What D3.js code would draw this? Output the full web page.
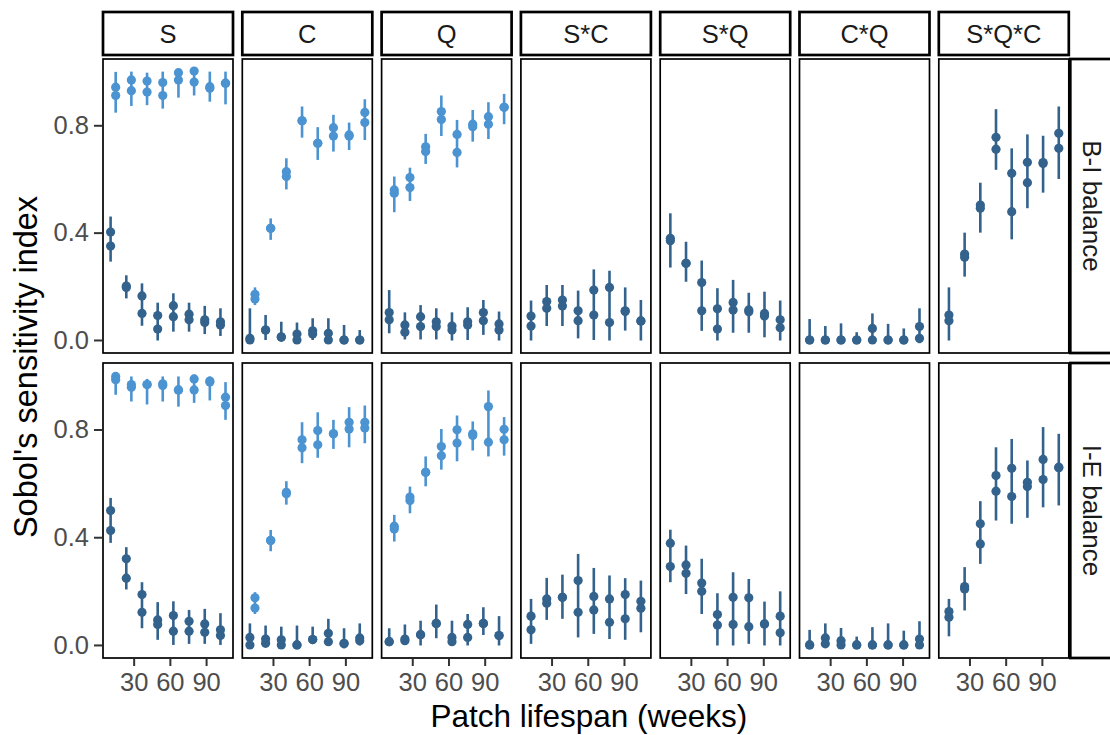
<!DOCTYPE html>
<html><head><meta charset="utf-8">
<script src="https://cdn.jsdelivr.net/npm/d3@7/dist/d3.min.js"></script>
<style>
body{margin:0;background:#fff}
text{font-family:"Liberation Sans", Arial, Helvetica, sans-serif}
</style>
</head><body>
<svg id="chart" width="1110" height="735"></svg>
<script>
// ---------- data ----------
const weeks = [13, 26, 39, 52, 65, 78, 91, 104];
const terms = ["S", "C", "Q", "S*C", "S*Q", "C*Q", "S*Q*C"];
const balances = ["B-I balance", "I-E balance"];
const xTickValues = [30, 60, 90];
const yTickValues = [0, 0.4, 0.8];
const yTickLabels = ["0.0", "0.4", "0.8"];
const xLabel = "Patch lifespan (weeks)";
const yLabel = "Sobol's sensitivity index";

// each entry per week: [estimate 1, estimate 2, interval low, interval high]
// B-I balance, light group (main effects)
const bi_S_light = [[0.942,0.911,0.847,0.999],[0.969,0.929,0.872,1.0],[0.965,0.924,0.875,0.996],[0.959,0.911,0.862,1.0],[0.996,0.969,0.903,1.006],[1.002,0.961,0.911,1.012],[0.944,0.938,0.888,1.0],[0.957,0.957,0.878,1.0]];
const bi_C_light = [[0.170,0.153,0.130,0.196],[0.416,0.416,0.373,0.453],[0.627,0.609,0.561,0.677],[0.817,0.817,0.754,0.870],[0.733,0.733,0.671,0.793],[0.791,0.760,0.702,0.839],[0.764,0.760,0.708,0.810],[0.848,0.810,0.745,0.897]];
const bi_Q_light = [[0.559,0.547,0.476,0.609],[0.605,0.568,0.518,0.642],[0.720,0.702,0.656,0.768],[0.851,0.822,0.760,0.911],[0.766,0.699,0.643,0.820],[0.804,0.795,0.739,0.857],[0.832,0.804,0.749,0.886],[0.867,0.867,0.804,0.917]];
// B-I balance, dark group
const bi_S = [[0.402,0.350,0.292,0.460],[0.201,0.196,0.155,0.241],[0.164,0.099,0.053,0.211],[0.091,0.041,-0.002,0.139],[0.128,0.087,0.031,0.174],[0.096,0.075,0.031,0.139],[0.075,0.065,0.022,0.127],[0.068,0.056,0.015,0.118]];
const bi_C = [[0.006,0.0,-0.012,0.118],[0.037,0.037,0.0,0.093],[0.012,0.010,-0.002,0.068],[0.022,0.0,-0.012,0.065],[0.034,0.022,0.0,0.081],[0.025,0.0,-0.010,0.081],[0.0,0.0,-0.010,0.056],[0.0,0.0,-0.015,0.037]];
const bi_Q = [[0.102,0.075,0.025,0.186],[0.056,0.029,0.002,0.103],[0.087,0.050,0.002,0.130],[0.068,0.050,0.002,0.118],[0.052,0.037,-0.002,0.103],[0.068,0.056,0.0,0.122],[0.102,0.072,0.019,0.149],[0.060,0.037,-0.002,0.106]];
const bi_SC = [[0.089,0.052,-0.002,0.147],[0.143,0.118,0.052,0.205],[0.149,0.127,0.052,0.205],[0.109,0.072,0.006,0.184],[0.186,0.093,0.0,0.263],[0.196,0.065,-0.002,0.258],[0.109,0.106,0.035,0.196],[0.071,0.071,-0.002,0.149]];
const bi_SQ = [[0.379,0.370,0.270,0.472],[0.286,0.286,0.217,0.366],[0.214,0.109,0.034,0.296],[0.116,0.041,-0.002,0.193],[0.140,0.112,0.027,0.224],[0.112,0.105,0.027,0.176],[0.099,0.089,0.010,0.180],[0.075,0.046,-0.002,0.147]];
const bi_CQ = [[0.0,0.0,-0.012,0.078],[0.0,0.0,-0.012,0.052],[0.0,0.0,-0.012,0.062],[0.0,0.0,-0.012,0.029],[0.043,0.0,-0.012,0.099],[0.0,0.0,-0.012,0.060],[0.0,0.0,-0.012,0.043],[0.050,0.006,-0.012,0.118]];
const bi_SQC = [[0.093,0.072,-0.002,0.196],[0.320,0.308,0.236,0.400],[0.503,0.491,0.400,0.586],[0.755,0.711,0.634,0.860],[0.621,0.478,0.375,0.714],[0.662,0.586,0.491,0.766],[0.661,0.658,0.549,0.761],[0.770,0.714,0.600,0.870]];
// I-E balance, light group (main effects)
const ie_S_light = [[0.997,0.985,0.929,1.007],[0.967,0.957,0.904,0.997],[0.967,0.967,0.893,0.988],[0.970,0.963,0.904,0.997],[0.947,0.947,0.885,0.997],[0.988,0.947,0.899,1.004],[0.980,0.976,0.908,0.997],[0.920,0.889,0.836,0.976]];
const ie_C_light = [[0.175,0.137,0.115,0.196],[0.388,0.388,0.348,0.427],[0.567,0.561,0.521,0.608],[0.762,0.732,0.675,0.827],[0.796,0.743,0.695,0.864],[0.784,0.784,0.728,0.836],[0.827,0.802,0.734,0.883],[0.827,0.806,0.749,0.889]];
const ie_Q_light = [[0.441,0.431,0.384,0.483],[0.549,0.536,0.489,0.588],[0.641,0.641,0.589,0.700],[0.737,0.703,0.651,0.802],[0.799,0.750,0.682,0.852],[0.784,0.778,0.722,0.830],[0.885,0.753,0.700,0.945],[0.801,0.762,0.703,0.846]];
// I-E balance, dark group
const ie_S = [[0.499,0.425,0.379,0.546],[0.320,0.248,0.206,0.363],[0.187,0.121,0.062,0.233],[0.093,0.076,0.019,0.159],[0.109,0.051,0.0,0.162],[0.088,0.051,0.004,0.130],[0.078,0.047,0.004,0.134],[0.056,0.035,0.0,0.118]];
const ie_C = [[0.028,0.0,-0.015,0.080],[0.022,0.006,-0.006,0.072],[0.019,0.0,-0.012,0.068],[0.0,0.0,-0.012,0.072],[0.020,0.020,0.004,0.068],[0.043,0.012,-0.002,0.097],[0.006,0.004,-0.012,0.062],[0.026,0.016,-0.002,0.080]];
const ie_Q = [[0.012,0.012,-0.002,0.062],[0.022,0.016,0.0,0.076],[0.038,0.038,-0.002,0.090],[0.080,0.080,0.025,0.150],[0.028,0.012,-0.002,0.090],[0.076,0.028,-0.002,0.115],[0.080,0.080,0.037,0.140],[0.035,0.035,-0.002,0.107]];
const ie_SC = [[0.107,0.056,0.004,0.171],[0.171,0.155,0.093,0.249],[0.177,0.177,0.097,0.261],[0.239,0.121,0.028,0.338],[0.180,0.130,0.041,0.286],[0.171,0.084,0.022,0.258],[0.187,0.097,0.019,0.248],[0.162,0.136,0.047,0.239]];
const ie_SQ = [[0.378,0.291,0.233,0.428],[0.297,0.266,0.189,0.369],[0.230,0.199,0.115,0.320],[0.113,0.074,-0.002,0.192],[0.177,0.076,-0.002,0.270],[0.175,0.068,0.004,0.245],[0.078,0.078,-0.002,0.161],[0.107,0.045,-0.002,0.199]];
const ie_CQ = [[0.0,0.0,-0.012,0.056],[0.026,0.004,-0.008,0.080],[0.016,0.0,-0.012,0.063],[0.0,0.0,-0.012,0.031],[0.0,0.0,-0.012,0.066],[0.0,0.0,-0.012,0.080],[0.0,0.0,-0.012,0.053],[0.022,0.0,-0.015,0.088]];
const ie_SQC = [[0.124,0.103,0.032,0.171],[0.217,0.208,0.128,0.289],[0.450,0.375,0.301,0.534],[0.629,0.571,0.462,0.734],[0.656,0.551,0.450,0.765],[0.604,0.588,0.472,0.685],[0.689,0.614,0.511,0.809],[0.660,0.658,0.518,0.784]];

// ---------- table built from the arrays ----------
const darkSeries = [
  [bi_S, bi_C, bi_Q, bi_SC, bi_SQ, bi_CQ, bi_SQC],
  [ie_S, ie_C, ie_Q, ie_SC, ie_SQ, ie_CQ, ie_SQC]
];
const lightSeries = [
  [bi_S_light, bi_C_light, bi_Q_light, null, null, null, null],
  [ie_S_light, ie_C_light, ie_Q_light, null, null, null, null]
];

// ---------- layout ----------
const lightColor = "#4b93d1";
const darkColor = "#33628c";
const panelX0 = 103, panelStep = 139.3, panelW = 130;
const rowTop = [59, 363], rowH = [294, 295];
const stripTop = 12, stripH = 43;
const dodge = 2.1;

const svg = d3.select("#chart");
svg.append("rect").attr("width", 1110).attr("height", 735).attr("fill", "#fff");

const xDomain = [4.6, 112.3];
const yDomain = [-0.0485, 1.047];

balances.forEach((bal, r) => {
  const top = rowTop[r], bottom = rowTop[r] + rowH[r];
  const y = d3.scaleLinear().domain(yDomain).range([bottom, top]);
  terms.forEach((term, c) => {
    const left = panelX0 + c * panelStep;
    const x = d3.scaleLinear().domain(xDomain).range([left, left + panelW]);
    const g = svg.append("g");
    const hasLight = !!lightSeries[r][c];
    const groups = [];
    groups.push({ data: darkSeries[r][c], color: darkColor, off: hasLight ? -dodge : 0 });
    if (hasLight) groups.push({ data: lightSeries[r][c], color: lightColor, off: dodge });

    groups.forEach(gr => {
      const rows = gr.data.map((v, i) => ({ w: weeks[i] + gr.off, e1: v[0], e2: v[1], lo: v[2], hi: v[3] }));
      g.selectAll(null).data(rows).enter().append("line")
        .attr("x1", d => x(d.w)).attr("x2", d => x(d.w))
        .attr("y1", d => y(d.lo)).attr("y2", d => y(d.hi))
        .attr("stroke", gr.color).attr("stroke-width", 2.6);
      const pts = rows.flatMap(d => [{ w: d.w, v: d.e1 }, { w: d.w, v: d.e2 }]);
      g.selectAll(null).data(pts).enter().append("circle")
        .attr("cx", d => x(d.w)).attr("cy", d => y(d.v)).attr("r", 4.6)
        .attr("fill", gr.color);
    });

    // panel border
    svg.append("rect").attr("x", left).attr("y", top).attr("width", panelW).attr("height", rowH[r])
      .attr("fill", "none").attr("stroke", "#000").attr("stroke-width", 1.7);

    // top strips
    if (r === 0) {
      svg.append("rect").attr("x", left).attr("y", stripTop).attr("width", panelW).attr("height", stripH)
        .attr("fill", "#fff").attr("stroke", "#000").attr("stroke-width", 2.7);
      svg.append("text").attr("x", left + panelW / 2).attr("y", 42.5)
        .attr("text-anchor", "middle").attr("font-size", 25.5).attr("fill", "#1a1a1a").text(term);
    }
    // left axis
    if (c === 0) {
      const ax = svg.append("g").attr("transform", `translate(${left - 1},0)`)
        .call(d3.axisLeft(y).tickValues(yTickValues).tickFormat((d, i) => yTickLabels[i]).tickSize(8).tickPadding(5));
      ax.select(".domain").remove();
      ax.selectAll(".tick line").attr("stroke", "#333").attr("stroke-width", 2);
      ax.selectAll(".tick text").attr("font-size", 25.5).attr("fill", "#4d4d4d")
        .attr("font-family", '"Liberation Sans", Arial, sans-serif');
    }
    // bottom axis
    if (r === 1) {
      const ax = svg.append("g").attr("transform", `translate(0,${bottom + 1})`)
        .call(d3.axisBottom(x).tickValues(xTickValues).tickFormat(d3.format("d")).tickSize(7).tickPadding(7));
      ax.select(".domain").remove();
      ax.selectAll(".tick line").attr("stroke", "#333").attr("stroke-width", 2);
      ax.selectAll(".tick text").attr("font-size", 25.5).attr("fill", "#4d4d4d")
        .attr("font-family", '"Liberation Sans", Arial, sans-serif');
    }
  });
  // right strip
  const sx = panelX0 + 6 * panelStep + panelW + 1.5;
  svg.append("rect").attr("x", sx).attr("y", top).attr("width", 43).attr("height", rowH[r])
    .attr("fill", "#fff").attr("stroke", "#000").attr("stroke-width", 2.7);
  svg.append("text").attr("transform", `translate(${sx + 21.5},${(top + bottom) / 2}) rotate(90)`)
    .attr("text-anchor", "middle").attr("dominant-baseline", "central")
    .attr("font-size", 26).attr("fill", "#1a1a1a").text(bal);
});

// axis titles
svg.append("text").attr("x", (panelX0 + panelX0 + 6 * panelStep + panelW) / 2 + 3).attr("y", 727)
  .attr("text-anchor", "middle").attr("font-size", 31.5).attr("fill", "#000").text(xLabel);
svg.append("text").attr("transform", `translate(37,367) rotate(-90)`)
  .attr("text-anchor", "middle").attr("font-size", 32.5).attr("fill", "#000").text(yLabel);
</script>
</body></html>
